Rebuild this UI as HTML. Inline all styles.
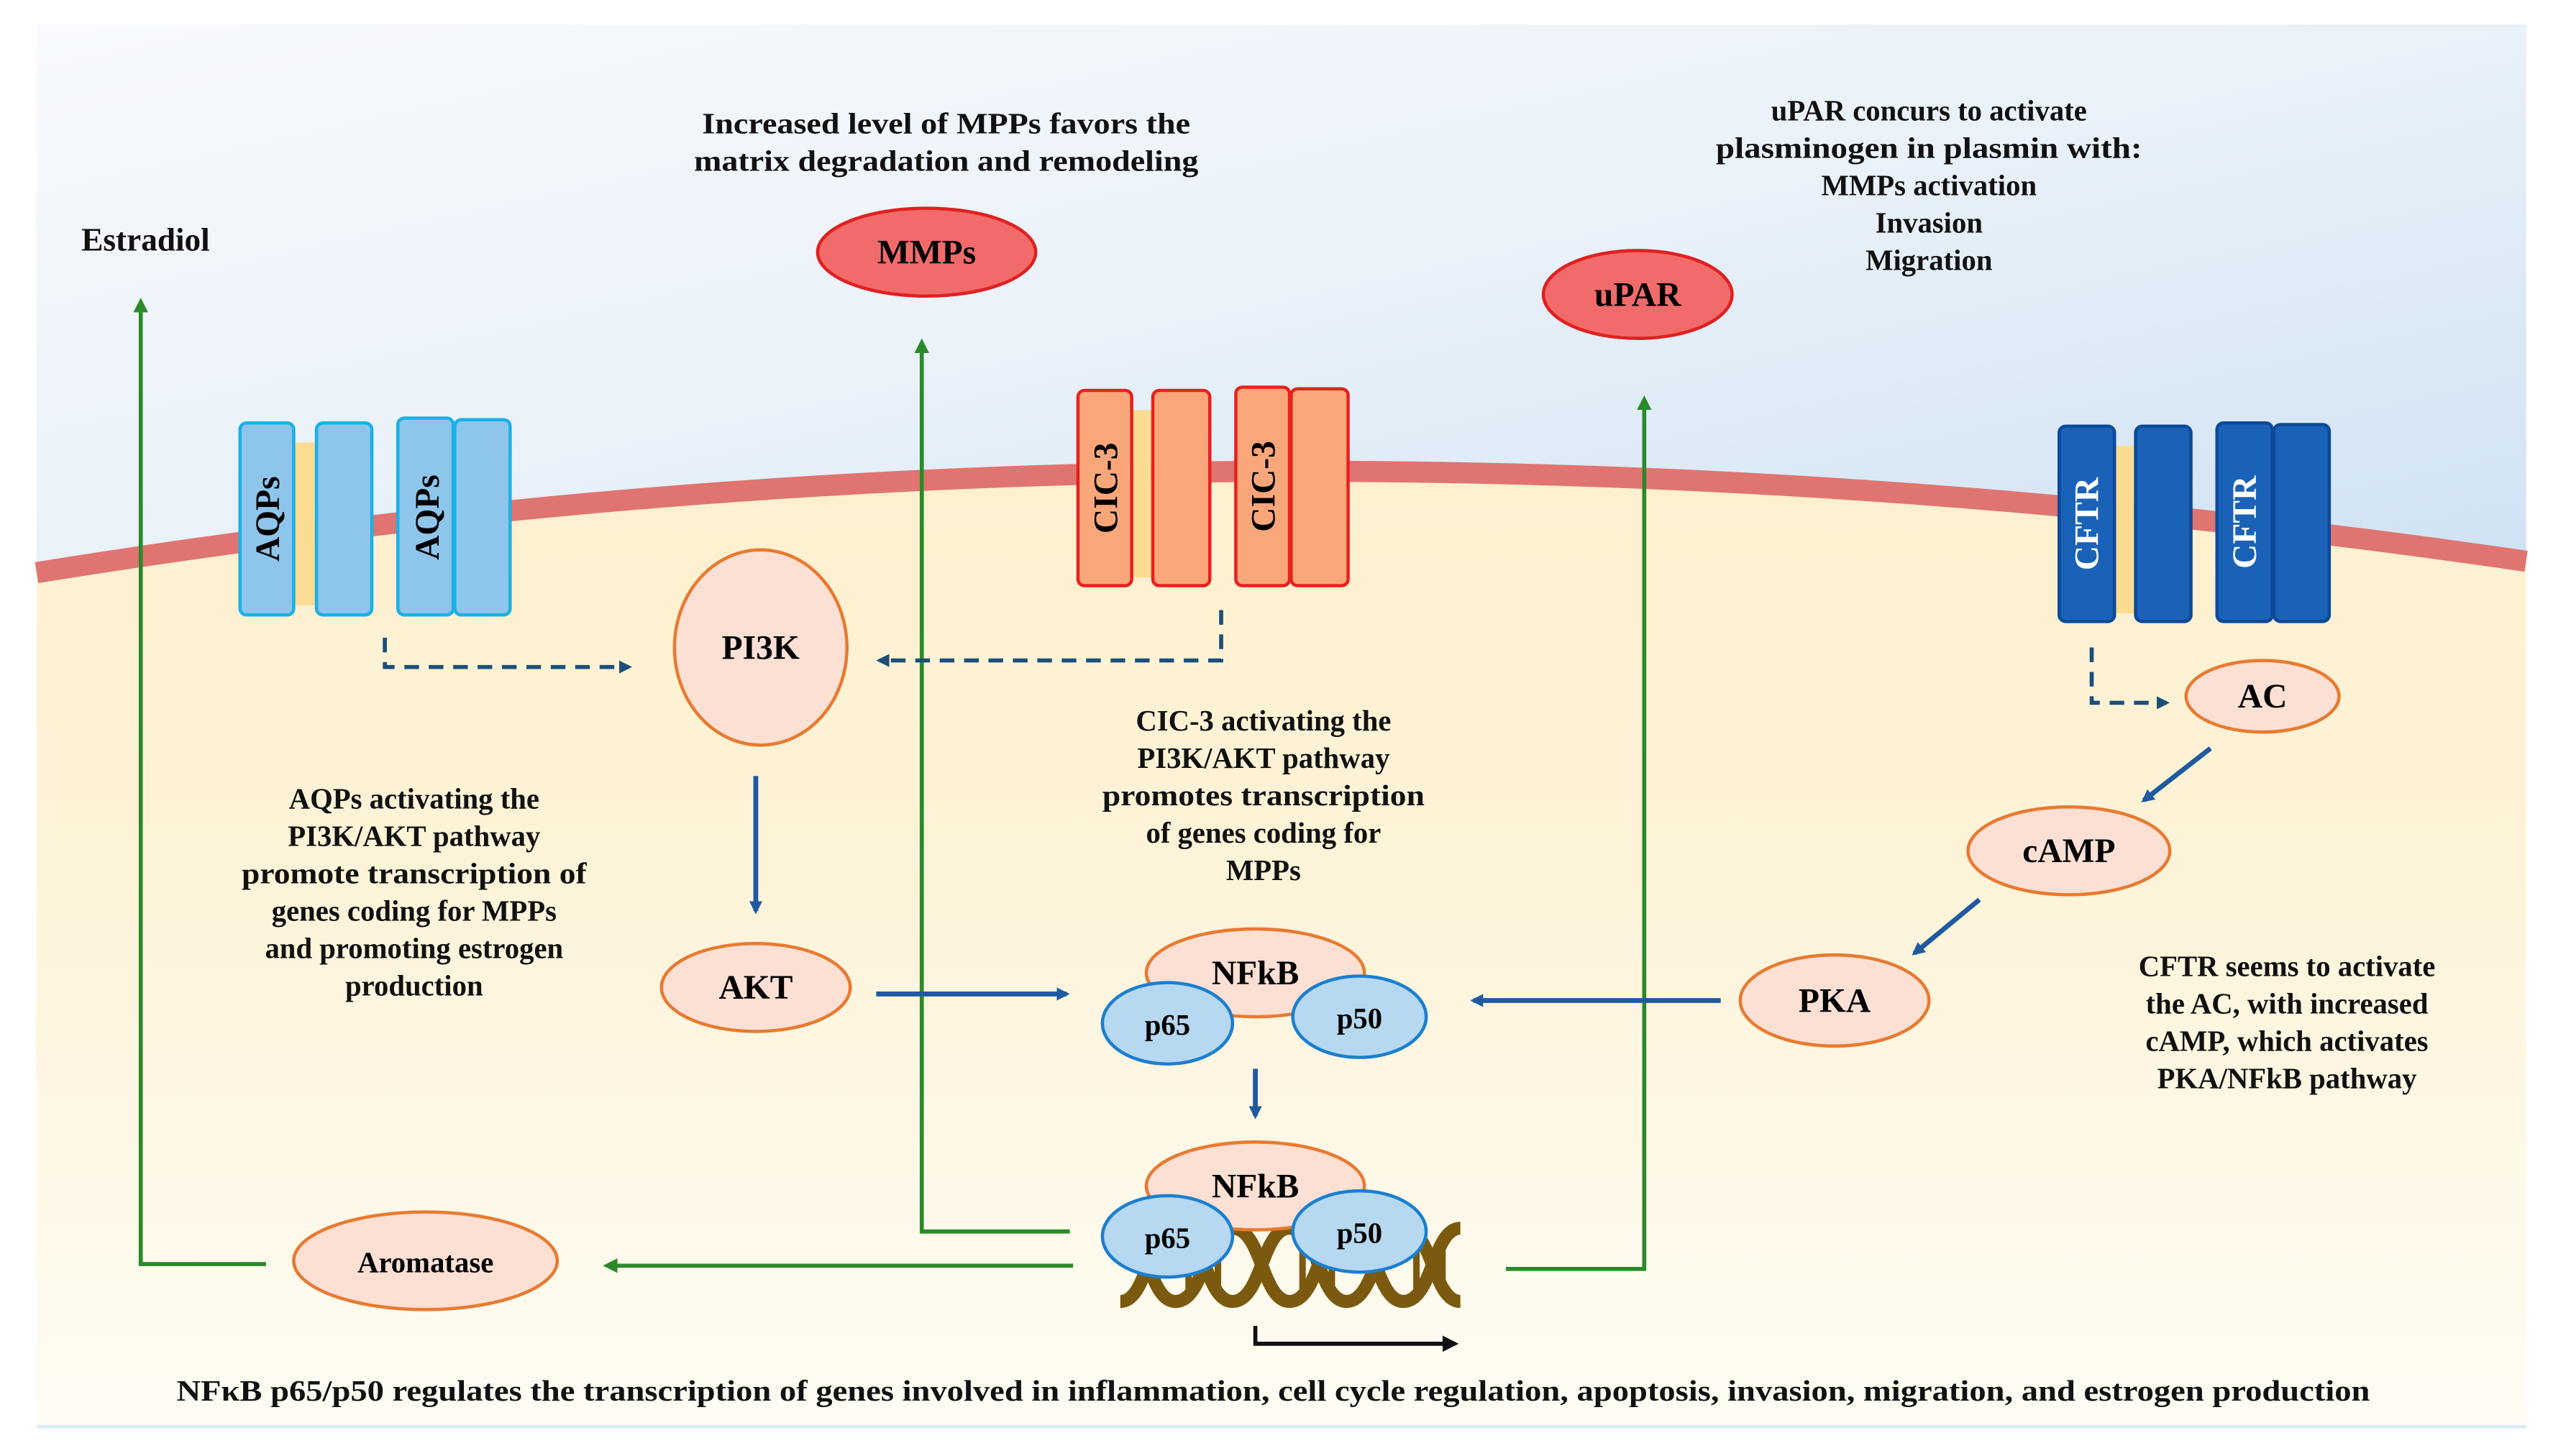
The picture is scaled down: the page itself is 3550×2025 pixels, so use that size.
<!DOCTYPE html>
<html><head><meta charset="utf-8"><style>html,body{margin:0;padding:0;background:#fff}svg{display:block}</style></head>
<body>
<svg width="3550" height="2025" viewBox="0 0 1568 895" xmlns="http://www.w3.org/2000/svg" font-family="'Liberation Serif', serif" font-weight="bold">
<defs>
<linearGradient id="sky" x1="0" y1="0" x2="1" y2="1"><stop offset="0" stop-color="#f8fafd"/><stop offset="0.5" stop-color="#e9f1f9"/><stop offset="1" stop-color="#cfe2f3"/></linearGradient>
<linearGradient id="cream" x1="0" y1="0" x2="0" y2="1"><stop offset="0" stop-color="#fdedc4"/><stop offset="0.6" stop-color="#fdf3d8"/><stop offset="1" stop-color="#fefcf4"/></linearGradient>
<marker id="bl" markerWidth="8" markerHeight="8" refX="6" refY="4" orient="auto" markerUnits="userSpaceOnUse"><path d="M0,0 L8,4 L0,8 Z" fill="#1f5aa0"/></marker>
<marker id="gr" markerWidth="9" markerHeight="9" refX="6" refY="4.5" orient="auto" markerUnits="userSpaceOnUse"><path d="M0,0 L9,4.5 L0,9 Z" fill="#2a8a2a"/></marker>
<marker id="dk" markerWidth="8" markerHeight="8" refX="6" refY="4" orient="auto" markerUnits="userSpaceOnUse"><path d="M0,0 L8,4 L0,8 Z" fill="#1b4f7a"/></marker>
<marker id="bk" markerWidth="10" markerHeight="10" refX="7" refY="5" orient="auto" markerUnits="userSpaceOnUse"><path d="M0,0 L10,5 L0,10 Z" fill="#111"/></marker>
</defs>
<rect x="22" y="15" width="1530" height="862" fill="url(#cream)"/>
<path d="M22,15 L1552,15 L1552,345 Q770,231 22,352 Z" fill="url(#sky)"/>
<path d="M22,352 Q770,231 1552,345" fill="none" stroke="#e07470" stroke-width="13"/>
<line x1="22" y1="877" x2="1552" y2="877" stroke="#d6eaf7" stroke-width="2"/>

<g stroke="#2a8a2a" stroke-width="2.5" fill="none">
<path d="M163,777 L86,777 L86,186" marker-end="url(#gr)"/>
<path d="M657,757 L566,757 L566,211" marker-end="url(#gr)"/>
<path d="M925,780 L1010,780 L1010,246" marker-end="url(#gr)"/>
<path d="M659,778 L373,778" marker-end="url(#gr)"/>
</g>

<rect x="181" y="272" width="12" height="100" fill="#fcdc92"/>
<g fill="#8ec5ea" stroke="#1ab0e8" stroke-width="2">
<rect x="147" y="260" width="33" height="118" rx="4"/>
<rect x="194" y="260" width="34" height="118" rx="4"/>
<rect x="244" y="257" width="34" height="121" rx="4"/>
<rect x="279" y="258" width="34" height="120" rx="4"/>
</g>
<text transform="translate(171,319) rotate(-90)" text-anchor="middle" font-size="21">AQPs</text>
<text transform="translate(269,318) rotate(-90)" text-anchor="middle" font-size="21">AQPs</text>

<rect x="696" y="252" width="11" height="103" fill="#fcdc92"/>
<g fill="#f9a77a" stroke="#e8201e" stroke-width="2">
<rect x="662" y="240" width="33" height="120" rx="4"/>
<rect x="708" y="240" width="35" height="120" rx="4"/>
<rect x="759" y="238" width="33" height="122" rx="4"/>
<rect x="793" y="239" width="35" height="121" rx="4"/>
</g>
<text transform="translate(686,300) rotate(-90)" text-anchor="middle" font-size="21">CIC-3</text>
<text transform="translate(783,299) rotate(-90)" text-anchor="middle" font-size="21">CIC-3</text>

<rect x="1300" y="274" width="11" height="103" fill="#fcdc92"/>
<g fill="#1a62b8" stroke="#0b4a9a" stroke-width="2">
<rect x="1265" y="262" width="34" height="120" rx="4"/>
<rect x="1312" y="262" width="34" height="120" rx="4"/>
<rect x="1362" y="260" width="34" height="122" rx="4"/>
<rect x="1397" y="261" width="34" height="121" rx="4"/>
</g>
<text transform="translate(1289,322) rotate(-90)" text-anchor="middle" font-size="21" fill="#fff">CFTR</text>
<text transform="translate(1386,321) rotate(-90)" text-anchor="middle" font-size="21" fill="#fff">CFTR</text>

<g stroke="#1b4f7a" stroke-width="2.5" fill="none" stroke-dasharray="9,6">
<path d="M236,392 L236,410 L386,410" marker-end="url(#dk)"/>
<path d="M750,375 L750,406 L540,406" marker-end="url(#dk)"/>
<path d="M1285,398 L1285,432 L1331,432" marker-end="url(#dk)"/>
</g>

<g stroke="#1f5aa0" stroke-width="3" fill="none">
<path d="M464,477 L464,560" marker-end="url(#bl)"/>
<path d="M538,611 L655,611" marker-end="url(#bl)"/>
<path d="M1057,615 L905,615" marker-end="url(#bl)"/>
<path d="M771,657 L771,686" marker-end="url(#bl)"/>
<path d="M1358,460 L1317,492" marker-end="url(#bl)"/>
<path d="M1216,553 L1176,586" marker-end="url(#bl)"/>
</g>

<g fill="#f26b6b" stroke="#e02020" stroke-width="2">
<ellipse cx="569" cy="155" rx="67" ry="27"/>
<ellipse cx="1006" cy="181" rx="58" ry="27"/>
</g>
<text x="569" y="162" text-anchor="middle" font-size="21">MMPs</text>
<text x="1006" y="188" text-anchor="middle" font-size="21">uPAR</text>

<g fill="#fde0d4" stroke="#e87a30" stroke-width="2">
<ellipse cx="467" cy="398" rx="53" ry="60"/>
<ellipse cx="464" cy="607" rx="58" ry="27"/>
<ellipse cx="1390" cy="428" rx="47" ry="22"/>
<ellipse cx="1271" cy="523" rx="62" ry="27"/>
<ellipse cx="1127" cy="615" rx="58" ry="28"/>
<ellipse cx="261" cy="775" rx="81" ry="30"/>
<ellipse cx="771" cy="598" rx="67" ry="27"/>
</g>
<g font-size="21" text-anchor="middle">
<text x="467" y="405">PI3K</text>
<text x="464" y="614">AKT</text>
<text x="1390" y="435">AC</text>
<text x="1271" y="530">cAMP</text>
<text x="1127" y="622">PKA</text>
<text x="261" y="782" font-size="18">Aromatase</text>
<text x="771" y="605">NFkB</text>
</g>
<g fill="#b6d8f0" stroke="#1a7fd0" stroke-width="2">
<ellipse cx="717" cy="629" rx="40" ry="25"/>
<ellipse cx="835" cy="625" rx="41" ry="25"/>
</g>
<text x="717" y="636" text-anchor="middle" font-size="18">p65</text>
<text x="835" y="632" text-anchor="middle" font-size="18">p50</text>

<g stroke="#7b5a10" stroke-width="8" fill="none">
<path d="M688,800 C705,800 705,755 722,755 C740,755 740,800 757,800 C775,800 775,755 792,755 C810,755 810,800 827,800 C845,800 845,755 862,755 C880,755 880,800 897,800"/>
<path d="M688,755 C705,755 705,800 722,800 C740,800 740,755 757,755 C775,755 775,800 792,800 C810,800 810,755 827,755 C845,755 845,800 862,800 C880,800 880,755 897,755"/>
</g>
<g stroke="#7b5a10" stroke-width="4">
<line x1="730" y1="762" x2="730" y2="795"/><line x1="748" y1="762" x2="748" y2="795"/>
<line x1="800" y1="762" x2="800" y2="795"/><line x1="818" y1="762" x2="818" y2="795"/>
<line x1="870" y1="762" x2="870" y2="795"/><line x1="886" y1="762" x2="886" y2="795"/>
</g>
<ellipse cx="771" cy="729" rx="67" ry="27" fill="#fde0d4" stroke="#e87a30" stroke-width="2"/>
<text x="771" y="736" text-anchor="middle" font-size="21">NFkB</text>
<g fill="#b6d8f0" stroke="#1a7fd0" stroke-width="2">
<ellipse cx="717" cy="760" rx="40" ry="25"/>
<ellipse cx="835" cy="757" rx="41" ry="25"/>
</g>
<text x="717" y="767" text-anchor="middle" font-size="18">p65</text>
<text x="835" y="764" text-anchor="middle" font-size="18">p50</text>
<path d="M771,815 L771,826 L893,826" stroke="#111" stroke-width="2.5" fill="none" marker-end="url(#bk)"/>

<g font-size="18" text-anchor="middle" fill="#111">
<text x="89" y="154" font-size="20">Estradiol</text>
<text x="581" y="82" textLength="300" lengthAdjust="spacingAndGlyphs">Increased level of MPPs favors the</text>
<text x="581" y="105" textLength="310" lengthAdjust="spacingAndGlyphs">matrix degradation and remodeling</text>
<text x="1185" y="74">uPAR concurs to activate</text>
<text x="1185" y="97" textLength="262" lengthAdjust="spacingAndGlyphs">plasminogen in plasmin with:</text>
<text x="1185" y="120">MMPs activation</text>
<text x="1185" y="143">Invasion</text>
<text x="1185" y="166">Migration</text>
<text x="254" y="497">AQPs activating the</text>
<text x="254" y="520">PI3K/AKT pathway</text>
<text x="254" y="543" textLength="212" lengthAdjust="spacingAndGlyphs">promote transcription of</text>
<text x="254" y="566">genes coding for MPPs</text>
<text x="254" y="589">and promoting estrogen</text>
<text x="254" y="612">production</text>
<text x="776" y="449">CIC-3 activating the</text>
<text x="776" y="472">PI3K/AKT pathway</text>
<text x="776" y="495" textLength="198" lengthAdjust="spacingAndGlyphs">promotes transcription</text>
<text x="776" y="518">of genes coding for</text>
<text x="776" y="541">MPPs</text>
<text x="1405" y="600">CFTR seems to activate</text>
<text x="1405" y="623">the AC, with increased</text>
<text x="1405" y="646">cAMP, which activates</text>
<text x="1405" y="669">PKA/NFkB pathway</text>
<text x="782" y="861" textLength="1348" lengthAdjust="spacingAndGlyphs">NFκB p65/p50 regulates the transcription of genes involved in inflammation, cell cycle regulation, apoptosis, invasion, migration, and estrogen production</text>
</g>
</svg>
</body></html>
